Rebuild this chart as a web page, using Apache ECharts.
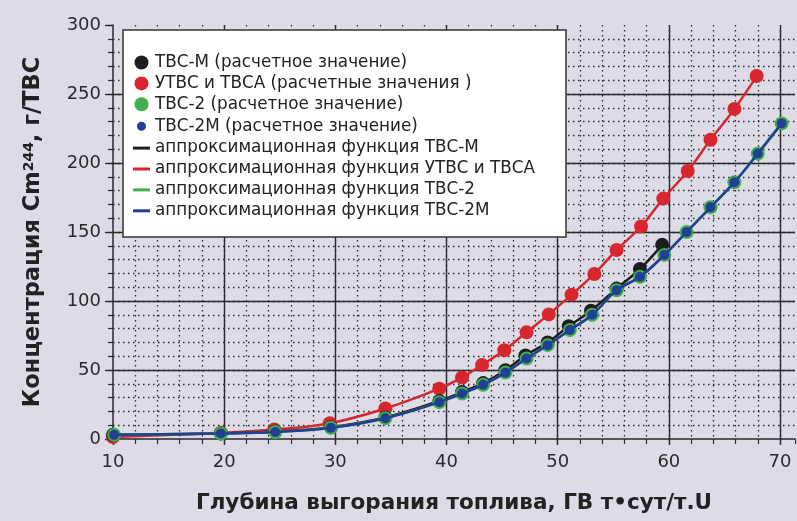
<!DOCTYPE html>
<html><head><meta charset="utf-8">
<script src="https://cdn.jsdelivr.net/npm/echarts@6/dist/echarts.min.js"></script>
<style>html,body{margin:0;padding:0;background:#dddbe6}#c{width:797px;height:521px}</style>
</head><body><div id="c"></div>
<script>
// Burnup (x) and Cm-244 content (y)
const redX   = [10, 19.7, 24.5, 29.5, 34.5, 39.35, 41.4, 43.2, 45.2, 47.2, 49.2, 51.25, 53.3, 55.3, 57.5, 59.5, 61.7, 63.75, 65.9, 67.9];
const redY   = [1.5, 4.5, 6.8, 11.4, 22.1, 36.5, 44.6, 53.7, 64.3, 77.3, 90.3, 104.6, 119.6, 137, 154, 174.2, 194.2, 216.8, 239.2, 263];
const blackX = [10, 19.7, 24.6, 29.6, 34.5, 39.35, 41.4, 43.3, 45.3, 47.1, 49.1, 51.0, 53.0, 55.3, 57.4, 59.4];
const blackY = [3, 4, 5.4, 8.6, 15.6, 27.5, 34, 40.5, 49.8, 60.5, 70, 81.7, 93, 109, 123.2, 140.7];
const greenX = [10.1, 19.7, 24.6, 29.6, 34.5, 39.35, 41.4, 43.3, 45.3, 47.2, 49.1, 51.1, 53.1, 55.3, 57.4, 59.6, 61.6, 63.75, 65.9, 68.0, 70.15];
const greenY = [3, 4, 5.1, 8.2, 15.1, 26.7, 33, 39.3, 48.1, 58.3, 68, 79, 90, 107.8, 117.5, 133.4, 150, 167.9, 186.1, 206.8, 228.7];
const blueX  = [10.1, 19.7, 24.6, 29.6, 34.5, 39.35, 41.4, 43.3, 45.3, 47.2, 49.1, 51.1, 53.1, 55.3, 57.4, 59.6, 61.6, 63.75, 65.9, 68.0, 70.15];
const blueY  = [3, 4, 5.1, 8.2, 15.1, 26.7, 33, 39.3, 48.1, 58.3, 68, 79, 90, 107.8, 117.5, 133.4, 150, 167.9, 186.1, 206.8, 228.7];
const xTicks = [10, 20, 30, 40, 50, 60, 70];
const yTicks = [0, 50, 100, 150, 200, 250, 300];
const names = {
  pM: 'ТВС-М (расчетное значение)',
  pU: 'УТВС и ТВСА (расчетные значения )',
  p2: 'ТВС-2 (расчетное значение)',
  p2M: 'ТВС-2М (расчетное значение)',
  fM: 'аппроксимационная функция ТВС-М',
  fU: 'аппроксимационная функция УТВС и ТВСА',
  f2: 'аппроксимационная функция ТВС-2',
  f2M: 'аппроксимационная функция ТВС-2М'
};
const C = {red:'#d8262f', black:'#1e1e1e', green:'#3fb04b', blue:'#213f95'};
const pairs = (xs, ys) => xs.map((x, i) => [x, ys[i]]);
const LINE_ICON = 'path://M0,0 L17,0 L17,3 L0,3 Z';

const chart = echarts.init(document.getElementById('c'));
const FONT = 'DejaVu Sans';
const minorLine = {show:true, showMinLine:false, showMaxLine:false, lineStyle:{color:'#2a2a2a', width:1.3, type:[1.5,3.5]}};
const majorLine = {show:true, showMinLine:false, showMaxLine:false, lineStyle:{color:'#2a2a2a', width:1.4, type:'solid'}};

chart.setOption({
  backgroundColor:'#dddbe6',
  animation:false,
  grid:{left:113, right:2, top:25, bottom:82},
  graphic:[{type:'rect', z:3, shape:{x:123, y:30, width:443, height:207}, style:{fill:'#fff', stroke:'#333', lineWidth:1.5}}],
  legend:{
    orient:'vertical', left:127, top:49, itemWidth:17, itemHeight:14, itemGap:3.9, z:5,
    textStyle:{fontFamily:FONT, fontSize:16.8, lineHeight:16, color:'#222'},
    data:[
      {name:names.pM, icon:'circle'},
      {name:names.pU, icon:'circle'},
      {name:names.p2, icon:'circle'},
      {name:names.p2M, icon:'circle', itemStyle:{borderColor:'#fff', borderWidth:5}},
      {name:names.fM, icon:LINE_ICON},
      {name:names.fU, icon:LINE_ICON},
      {name:names.f2, icon:LINE_ICON},
      {name:names.f2M, icon:LINE_ICON}
    ]
  },
  xAxis:[
    {type:'value', min:10, max:71.35, interval:10, position:'bottom',
     name:'Глубина выгорания топлива, ГВ т•сут/т.U', nameLocation:'middle', nameGap:53,
     nameTextStyle:{fontFamily:FONT, fontSize:21.5, fontWeight:'bold', color:'#222'},
     axisLine:{show:true, lineStyle:{color:'#2a2a2a', width:1.5}},
     axisTick:{show:true, length:6, lineStyle:{color:'#2a2a2a', width:1.4}},
     axisLabel:{show:true, margin:14, fontFamily:FONT, fontSize:18, color:'#2a2a2a', showMaxLabel:false,
       formatter:v => xTicks.includes(v) ? String(v) : ''},
     splitLine:majorLine},
    {type:'value', min:10, max:71.35, interval:2, position:'bottom',
     axisLine:{show:false}, axisLabel:{show:false},
     axisTick:{show:true, length:5, lineStyle:{color:'#2a2a2a', width:1.2}},
     splitLine:minorLine}
  ],
  yAxis:[
    {type:'value', min:0, max:300, interval:50, position:'left',
     name:'Концентрация Cm{s|244}, г/ТВС', nameLocation:'middle', nameGap:68,
     nameTextStyle:{fontFamily:FONT, fontSize:22.5, fontWeight:'bold', color:'#222',
       rich:{s:{fontFamily:FONT, fontSize:14, fontWeight:'bold', color:'#222', verticalAlign:'top', padding:[0,0,8,0]}}},
     axisLine:{show:true, lineStyle:{color:'#2a2a2a', width:1.5}},
     axisTick:{show:true, length:8, lineStyle:{color:'#2a2a2a', width:1.4}},
     axisLabel:{show:true, margin:12, fontFamily:FONT, fontSize:18, color:'#2a2a2a',
       formatter:v => yTicks.includes(v) ? String(v) : ''},
     splitLine:majorLine},
    {type:'value', min:0, max:300, interval:10, position:'left',
     axisLine:{show:false}, axisLabel:{show:false},
     axisTick:{show:true, length:5, lineStyle:{color:'#2a2a2a', width:1.2}},
     splitLine:minorLine}
  ],
  series:[
    {name:names.fU, type:'line', smooth:0.4, symbol:'none', data:pairs(redX, redY), lineStyle:{color:C.red, width:2.5}, itemStyle:{color:C.red}, z:2},
    {name:names.pU, type:'scatter', symbolSize:14, data:pairs(redX, redY), itemStyle:{color:C.red, opacity:1}, z:3},
    {name:names.fM, type:'line', smooth:0.4, symbol:'none', data:pairs(blackX, blackY), lineStyle:{color:C.black, width:2.5}, itemStyle:{color:C.black}, z:4},
    {name:names.pM, type:'scatter', symbolSize:14, data:pairs(blackX, blackY), itemStyle:{color:C.black, opacity:1}, z:5},
    {name:names.f2, type:'line', smooth:0.4, symbol:'none', data:pairs(greenX, greenY), lineStyle:{color:C.green, width:2.5}, itemStyle:{color:C.green}, z:6},
    {name:names.p2, type:'scatter', symbolSize:14, data:pairs(greenX, greenY), itemStyle:{color:C.green, opacity:1}, z:7},
    {name:names.f2M, type:'line', smooth:0.4, symbol:'none', data:pairs(blueX, blueY), lineStyle:{color:C.blue, width:2.5}, itemStyle:{color:C.blue}, z:8},
    {name:names.p2M, type:'scatter', symbolSize:10, data:pairs(blueX, blueY), itemStyle:{color:C.blue, opacity:1}, z:9}
  ]
});
</script></body></html>
